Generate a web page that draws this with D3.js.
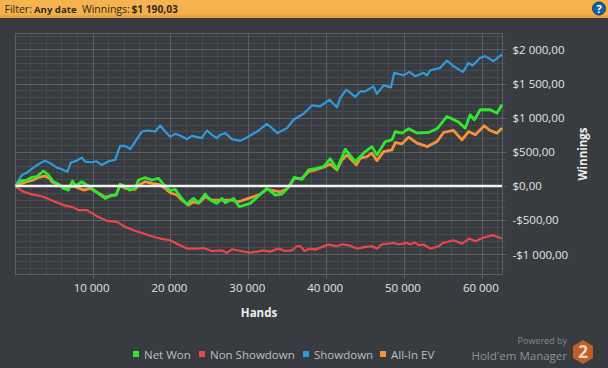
<!DOCTYPE html>
<html>
<head>
<meta charset="utf-8">
<script src="https://cdnjs.cloudflare.com/ajax/libs/d3/7.8.5/d3.min.js"></script>
<style>
html, body {margin:0; padding:0; background:#383b3f;}
svg {display:block;}
text {font-family:"Open Sans", "Noto Sans", sans-serif;}
</style>
</head>
<body>
<div id="chart"></div>
<script>

//values: hands played and winnings in dollars
const showdownHands = [100,270,910,1555,2400,3050,3900,4550,5400,6050,6770,7200,7980,8620,9050,9900,10460,11190,12040,12900,13540,14190,14830,15470,16330,17180,18040,18690,19330,19970,20610,21250,22110,22760,24040,24690,25330,25970,26400,27040,27900,28970,30030,31110,32400,33760,34970,35810,37100,38180,39240,40440,41390,41820,42590,43740,44390,45030,46090,46530,47380,48330,48750,49950,50720,51450,52520,52950,53380,54660,55520,56370,57580,58300,58810,59800,60440,61510,62590];
const showdownValues = [0,44,162,196,269,319,372,334,269,245,210,343,372,416,357,348,363,309,363,382,588,588,539,651,798,813,798,886,798,720,764,739,686,735,701,813,750,701,750,775,686,661,725,798,911,775,848,970,1058,1180,1166,1264,1151,1289,1411,1304,1386,1386,1460,1348,1474,1445,1657,1621,1671,1607,1657,1621,1695,1730,1837,1754,1671,1804,1764,1877,1901,1827,1926];

const netWonHands = [100,270,690,1555,2200,2840,3690,4330,4970,5620,6260,6900,7410,7850,8620,9260,9900,10750,11620,12480,13030,13540,14190,14740,15470,15900,16760,17620,18470,19110,19970,20610,21250,22110,22960,23610,24470,25110,25970,26610,27040,28100,28840,30250,31320,32400,33470,34330,35400,35900,36890,37740,38820,39670,40530,41390,42460,43740,45030,45890,46530,47600,48460,48890,49740,50590,51670,53160,54240,55520,57010,57870,58510,59030,59800,61080,61940,62590];
const netWonValues = [0,15,74,88,127,137,220,162,63,29,-34,-59,74,4,63,15,-34,-107,-181,-132,-132,25,-10,-59,-34,88,122,88,113,25,-69,-49,-150,-269,-181,-245,-118,-206,-254,-181,-245,-181,-304,-254,-147,-34,-132,-118,15,128,98,235,260,284,400,250,539,357,504,577,456,651,676,798,775,838,775,784,838,1019,936,848,1044,970,1117,1117,1068,1190];

const nonShowdownHands = [100,270,1120,2200,3690,5190,6260,7540,8190,9260,10550,11830,13120,14190,15250,16540,17620,18690,19970,21030,22110,23400,24250,25330,26610,27260,27900,29180,30250,31110,31960,32820,33880,34750,35610,36250,36760,37190,37960,38600,40310,41390,42030,42880,43960,45030,45890,46530,47170,48660,49300,50380,50800,51450,51870,52520,53380,54450,55010,56370,57450,58390,59160,60220,61430,62590];
const nonShowdownValues = [0,-19,-84,-122,-157,-230,-279,-313,-353,-353,-441,-510,-525,-598,-647,-696,-735,-769,-794,-857,-916,-916,-907,-951,-941,-980,-926,-955,-975,-960,-941,-960,-916,-951,-941,-882,-882,-951,-916,-931,-857,-882,-853,-867,-916,-892,-882,-916,-853,-834,-853,-834,-853,-828,-867,-857,-916,-882,-834,-794,-843,-770,-809,-755,-720,-769];

const allInHands = [100,350,910,1555,2400,3050,3900,4460,4770,5620,6260,7760,8830,9690,10720,11620,12480,13030,13540,14190,15470,15900,16760,17620,18470,19330,19970,20830,21470,22320,22960,23610,24470,25330,26400,27900,28750,30030,31320,32400,33240,34100,34970,35900,36890,37740,38820,39880,40530,41390,42030,42670,43870,44390,45250,45890,46530,47380,48460,48890,49740,50590,51670,53030,54240,55090,56370,57450,58300,59160,60310,61080,61940,62590];
const allInValues = [0,15,40,63,88,127,147,113,63,15,-10,-10,-59,-34,-103,-162,-140,-125,10,-34,-49,15,63,40,25,-34,-99,-132,-206,-279,-230,-254,-157,-206,-206,-206,-230,-181,-132,-49,-69,-84,-44,113,113,210,245,284,323,235,382,456,309,407,431,481,372,504,529,637,617,716,628,578,651,784,813,676,798,750,882,813,774,848];

const legendNames = ["Net Won", "Non Showdown", "Showdown", "All-In EV"];
const xTicks = [10000, 20000, 30000, 40000, 50000, 60000];
const yTicks = [-1000, -500, 0, 500, 1000, 1500, 2000];


function graph1(){

	//sizing
	const width = 608;
	const height = 368;
	let margin = {top:33.5, right:106, bottom:94, left:15.5};

	const colors = {
		net: "#2ee82e",
		non: "#e8474c",
		show: "#2f9bdc",
		allin: "#f5923a"
	};

	let svg = d3.select("#chart")
		.append("svg")
		.attr("width", width)
		.attr("height", height);

	//number format with a space for thousands and a comma for decimals
	let locale = d3.formatLocale({
		"decimal": ",",
		"thousands": "\u00a0",
		"grouping": [3],
		"currency": ["$", ""],
		"minus": "-"
	});

	let x = d3.scaleLinear()
		.domain([100, 62590])
		.range([margin.left, width - margin.right]);

	let y = d3.scaleLinear()
		.domain([-1288, 2233])
		.range([height - margin.bottom, margin.top]);

	//header bar
	let grad = svg.append("defs").append("linearGradient")
		.attr("id", "head")
		.attr("x1", 0).attr("x2", 0).attr("y1", 0).attr("y2", 1);
	grad.append("stop").attr("offset", "0%").attr("stop-color", "#f7b44e");
	grad.append("stop").attr("offset", "75%").attr("stop-color", "#f5b04a");
	grad.append("stop").attr("offset", "100%").attr("stop-color", "#dc9c40");

	svg.append("rect")
		.attr("width", width)
		.attr("height", 18)
		.attr("fill", "url(#head)");

	function headText(px, weight, size, label){
		svg.append("text")
			.attr("x", px)
			.attr("y", 13)
			.attr("font-size", size)
			.attr("font-weight", weight)
			.attr("fill", "#2c2a26")
			.text(label);
	}
	headText(4.5, "normal", 10.5, "Filter:");
	headText(34, "bold", 9.6, "Any date");
	headText(82, "normal", 10.5, "Winnings:");
	headText(131.5, "bold", 10.2, "$1 190,03");

	svg.append("circle")
		.attr("cx", 599)
		.attr("cy", 8.5)
		.attr("r", 6.5)
		.attr("fill", "#16609f")
		.attr("stroke", "#0d3f6e");
	svg.append("text")
		.attr("x", 599)
		.attr("y", 12.5)
		.attr("text-anchor", "middle")
		.attr("font-size", 11)
		.attr("font-weight", "bold")
		.attr("fill", "#fff")
		.text("?");

	//grid, minor first so the major lines stay on top
	let xMinor = d3.range(2000, 62001, 2000).filter((d)=>{return d % 10000 != 0;});
	let yMinor = d3.range(-1200, 2201, 100).filter((d)=>{return d % 500 != 0;});
	let grid = svg.append("g").attr("shape-rendering", "crispEdges");

	function vLines(values, color, extra){
		grid.append("g").selectAll("line").data(values).enter().append("line")
			.attr("x1", (d)=>{return Math.round(x(d));})
			.attr("x2", (d)=>{return Math.round(x(d));})
			.attr("y1", margin.top)
			.attr("y2", height - margin.bottom + extra)
			.attr("stroke", color);
	}
	function hLines(values, color, extra){
		grid.append("g").selectAll("line").data(values).enter().append("line")
			.attr("y1", (d)=>{return Math.round(y(d));})
			.attr("y2", (d)=>{return Math.round(y(d));})
			.attr("x1", margin.left)
			.attr("x2", width - margin.right + extra)
			.attr("stroke", color);
	}
	vLines(xMinor, "#484b4f", 3);
	hLines(yMinor, "#484b4f", 3);
	vLines(xTicks, "#5c5f62", 5);
	hLines(yTicks, "#5c5f62", 5);

	//frame
	svg.append("rect")
		.attr("x", margin.left)
		.attr("y", margin.top)
		.attr("width", width - margin.right - margin.left)
		.attr("height", height - margin.bottom - margin.top)
		.attr("fill", "none")
		.attr("stroke", "#5c5f62")
		.attr("shape-rendering", "crispEdges");

	//axes, only the labels are shown since the grid draws the ticks
	let xAxis = svg.append("g")
		.attr("transform", "translate(-1.5," + (height - margin.bottom) + ")")
		.call(d3.axisBottom(x)
			.tickValues(xTicks)
			.tickSize(0)
			.tickPadding(10)
			.tickFormat(locale.format(",d")));
	let yAxis = svg.append("g")
		.attr("transform", "translate(" + (width - margin.right) + ",0)")
		.call(d3.axisRight(y)
			.tickValues(yTicks)
			.tickSize(0)
			.tickPadding(10.5)
			.tickFormat(locale.format("$,.2f")));

	xAxis.select(".domain").remove();
	yAxis.select(".domain").remove();
	svg.selectAll(".tick text")
		.attr("font-family", "'Open Sans', 'Noto Sans', sans-serif")
		.attr("font-size", 11.5)
		.attr("fill", "#e4e4e4");

	//series lines
	function addLine(hands, values, color, w){
		let line = d3.line()
			.x((d, i)=>{return x(hands[i]);})
			.y((d)=>{return y(d);});
		svg.append("path")
			.attr("d", line(values))
			.attr("fill", "none")
			.attr("stroke", color)
			.attr("stroke-width", w)
			.attr("stroke-linejoin", "round");
	}
	addLine(nonShowdownHands, nonShowdownValues, colors.non, 2.2);
	addLine(showdownHands, showdownValues, colors.show, 2.2);
	addLine(allInHands, allInValues, colors.allin, 2.8);
	addLine(netWonHands, netWonValues, colors.net, 2.8);

	//zero line
	svg.append("line")
		.attr("x1", margin.left)
		.attr("x2", width - margin.right)
		.attr("y1", y(0))
		.attr("y2", y(0))
		.attr("stroke", "#f4f4f4")
		.attr("stroke-width", 2.6);

	//axis titles
	svg.append("text")
		.attr("x", 259)
		.attr("y", 317)
		.attr("text-anchor", "middle")
		.attr("font-size", 11.5)
		.attr("font-weight", "bold")
		.attr("fill", "#eeeeee")
		.text("Hands");

	svg.append("text")
		.attr("transform", "translate(587,154) rotate(-90)")
		.attr("text-anchor", "middle")
		.attr("font-size", 11.5)
		.attr("font-weight", "bold")
		.attr("fill", "#eeeeee")
		.text("Winnings");

	//legend
	let legendX = [133, 199, 303, 380];
	let legendColors = [colors.net, colors.non, colors.show, colors.allin];
	legendNames.forEach((name, i)=>{
		svg.append("rect")
			.attr("x", legendX[i])
			.attr("y", 351)
			.attr("width", 6)
			.attr("height", 6)
			.attr("fill", legendColors[i]);
		svg.append("text")
			.attr("x", legendX[i] + 11)
			.attr("y", 359)
			.attr("font-size", 11.5)
			.attr("fill", "#bdbfc1")
			.text(name);
	});

	//logo
	svg.append("text")
		.attr("x", 567)
		.attr("y", 344)
		.attr("text-anchor", "end")
		.attr("font-size", 9)
		.attr("fill", "#85888b")
		.text("Powered by");
	svg.append("text")
		.attr("x", 567)
		.attr("y", 359.5)
		.attr("text-anchor", "end")
		.attr("font-size", 11.5)
		.attr("fill", "#8f9295")
		.text("Hold'em Manager");

	let hex = d3.range(6).map((i)=>{
		let a = Math.PI/3*i + Math.PI/6;
		return [583 + 11.5*Math.cos(a), 352 + 12*Math.sin(a)];
	});
	svg.append("polygon")
		.attr("points", hex.map((p)=>{return p.join(",");}).join(" "))
		.attr("fill", "#c05f2a");
	svg.append("text")
		.attr("x", 583)
		.attr("y", 358)
		.attr("text-anchor", "middle")
		.attr("font-size", 17)
		.attr("font-weight", "bold")
		.attr("fill", "#e9d9c9")
		.text("2");

} //function graph1


window.addEventListener("load", function(){
	graph1();
});
</script>
</body>
</html>
